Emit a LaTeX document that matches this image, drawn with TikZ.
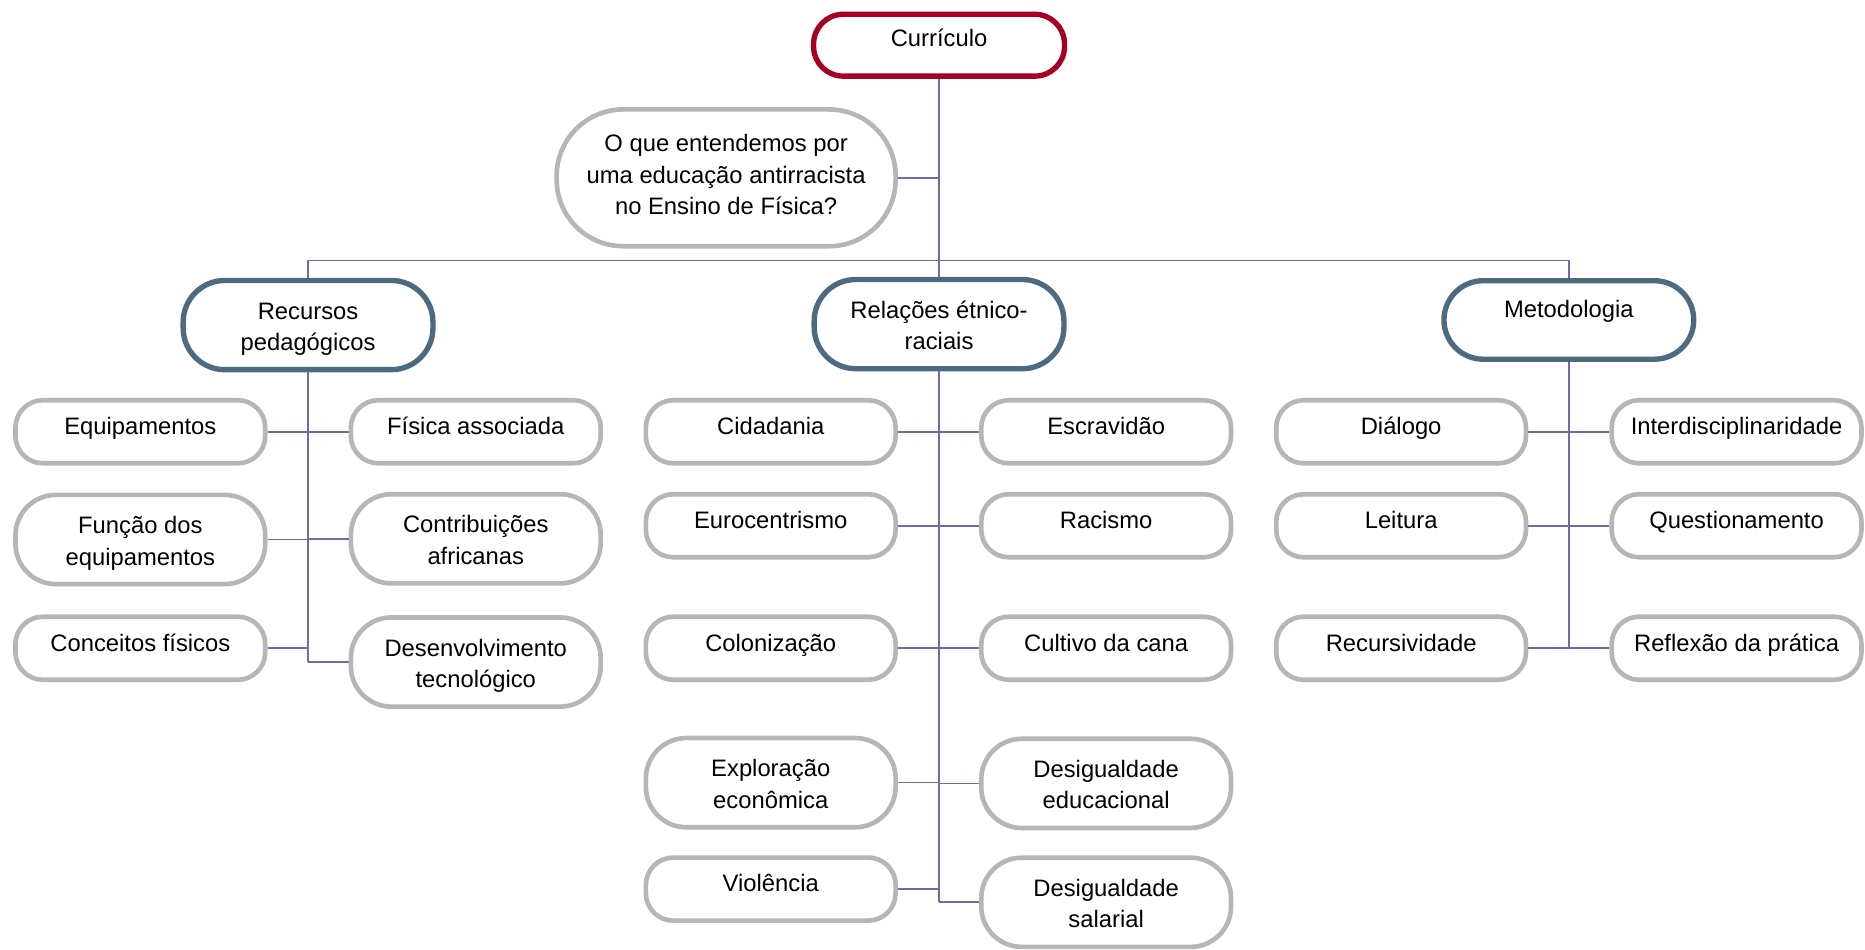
\documentclass[tikz,border=0pt]{standalone}
\usepackage{fontspec}
\setmainfont{Liberation Sans}
\definecolor{currred}{RGB}{165,0,33}
\definecolor{lvlblue}{RGB}{77,107,128}
\definecolor{leafgray}{RGB}{182,182,182}
\definecolor{connc}{RGB}{112,108,160}
\newcommand{\fstl}{\rule{0pt}{20.6pt}}
\newcommand{\lstl}{\rule[-4.2pt]{0pt}{4.2pt}}
\begin{document}
\begin{tikzpicture}[x=1pt,y=-1pt,
  base/.style={fill=white, font=\fontsize{20}{26.5}\selectfont, inner sep=0pt, align=center},
  leaf/.style={base, draw=leafgray, line width=3.9pt, minimum width=210pt, minimum height=53pt, rounded corners=23pt, text height=14pt, text depth=9.2pt},
  leafb/.style={base, draw=leafgray, line width=3.9pt, minimum width=210pt, minimum height=75pt, rounded corners=34pt},
  lvl/.style={base, draw=lvlblue, line width=4.5pt, minimum width=210pt, minimum height=75pt, rounded corners=35pt},
  conn/.style={draw=connc, line width=1.4pt}
]
\useasboundingbox (0,0) rectangle (1568,798);

% top
\node[base, draw=currred, line width=4.5pt, minimum width=211pt, minimum height=52pt, rounded corners=25pt, text height=14pt, text depth=11.6pt] (cur) at (789.5,38) {Currículo};
\node[base, draw=leafgray, line width=3.9pt, minimum width=285pt, minimum height=115pt, rounded corners=56pt] (q) at (610.5,149.5) {O que entendemos por\\uma educação antirracista\\no Ensino de Física?\rule[-5.4pt]{0pt}{5.4pt}};

% level 2
\node[lvl] (rec) at (259,273.3) {\fstl Recursos\\pedagógicos\lstl};
\node[lvl] (rel) at (789.5,272.5) {\fstl Relações étnico-\\raciais\lstl};
\node[lvl, minimum height=66pt, rounded corners=33pt, text height=14pt, text depth=18.6pt] (met) at (1319,269) {Metodologia};

% Recursos children
\node[leaf] (eq) at (118,363) {Equipamentos};
\node[leaf] (fa) at (400,363) {Física associada};
\node[leafb] (fe) at (118,453.6) {\fstl Função dos\\equipamentos\lstl};
\node[leafb] (ca) at (400,453) {\fstl Contribuições\\africanas\lstl};
\node[leaf] (cf) at (118,545) {Conceitos físicos};
\node[leafb] (dt) at (400,556.6) {\fstl Desenvolvimento\\tecnológico\lstl};

% Relações children
\node[leaf] (ci) at (648,363) {Cidadania};
\node[leaf] (es) at (930,363) {Escravidão};
\node[leaf] (eu) at (648,442) {Eurocentrismo};
\node[leaf] (ra) at (930,442) {Racismo};
\node[leaf] (co) at (648,545) {Colonização};
\node[leaf] (cc) at (930,545) {Cultivo da cana};
\node[leafb] (ex) at (648,658) {\fstl Exploração\\econômica\lstl};
\node[leafb] (de) at (930,658.6) {\fstl Desigualdade\\educacional\lstl};
\node[leaf] (vi) at (648,747.5) {Violência};
\node[leafb] (ds) at (930,758.6) {\fstl Desigualdade\\salarial\lstl};

% Metodologia children
\node[leaf] (di) at (1178,363) {Diálogo};
\node[leaf] (in) at (1460,363) {Interdisciplinaridade};
\node[leaf] (le) at (1178,442) {Leitura};
\node[leaf] (qu) at (1460,442) {Questionamento};
\node[leaf] (rc) at (1178,545) {Recursividade};
\node[leaf] (rp) at (1460,545) {Reflexão da prática};

% connectors
\coordinate (bus) at (789.5,219);
\draw[conn] (cur.south) -- (rel.north);
\draw[conn] (q.east) -- (q.east -| cur.south);
\draw[conn] (rec.north) -- (rec.north |- bus) -- (met.north |- bus) -- (met.north);

\draw[conn] (rec.south) -- (rec.south |- dt.west);
\foreach \n in {eq,fe,cf} \draw[conn] (\n.east) -- (\n.east -| rec.south);
\foreach \n in {fa,ca,dt} \draw[conn] (\n.west) -- (\n.west -| rec.south);

\draw[conn] (rel.south) -- (rel.south |- ds.west);
\foreach \n in {ci,eu,co,ex,vi} \draw[conn] (\n.east) -- (\n.east -| rel.south);
\foreach \n in {es,ra,cc,de,ds} \draw[conn] (\n.west) -- (\n.west -| rel.south);

\draw[conn] (met.south) -- (met.south |- rp.west);
\foreach \n in {di,le,rc} \draw[conn] (\n.east) -- (\n.east -| met.south);
\foreach \n in {in,qu,rp} \draw[conn] (\n.west) -- (\n.west -| met.south);
\end{tikzpicture}
\end{document}
